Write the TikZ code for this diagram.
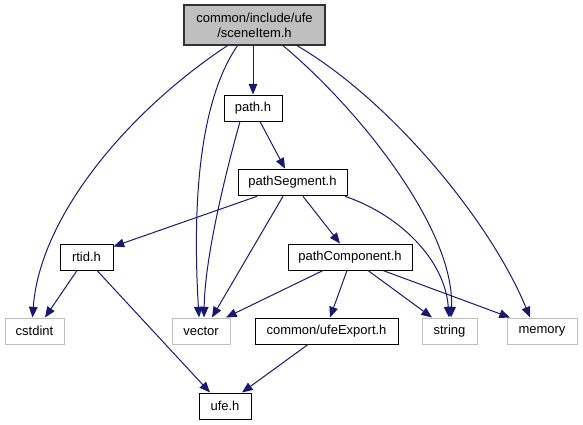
\documentclass[tikz,border=0pt]{standalone}
\usepackage{fontspec}
\setmainfont{Liberation Sans}
\usetikzlibrary{arrows.meta,calc}
\definecolor{edgeblue}{RGB}{25,25,112}
\definecolor{extgray}{RGB}{191,191,191}
\definecolor{topfill}{RGB}{191,191,191}
\begin{document}
\begin{tikzpicture}[x=0.75pt,y=-0.75pt,
  every node/.style={font=\fontsize{9.75pt}{11.25pt}\selectfont, inner sep=0pt, minimum height=19.5pt, align=center},
  filebox/.style={draw=black, line width=0.75pt, fill=white},
  extbox/.style={draw=extgray, line width=0.75pt, fill=white},
  topbox/.style={draw=black!80, line width=0.9pt, fill=topfill},
  dep/.style={draw=edgeblue, line width=0.75pt, -{Triangle[length=8pt,width=6.5pt]}}]
\useasboundingbox (0,0) rectangle (583,425);
% nodes
\node[topbox, minimum width=105.75pt, minimum height=30pt] (si) at (254.5,25) {common/include/ufe\\/sceneItem.h};
\node[filebox, minimum width=43.5pt] (path) at (253,108) {path.h};
\node[filebox, minimum width=81.75pt, minimum height=20pt] (seg) at (292.5,182.5) {pathSegment.h};
\node[filebox, minimum width=39.75pt] (rtid) at (86.5,257) {rtid.h};
\node[filebox, minimum width=93pt] (comp) at (350,257) {pathComponent.h};
\node[extbox, minimum width=44.25pt] (cstdint) at (34.5,331) {cstdint};
\node[extbox, minimum width=43.5pt] (vector) at (201,331) {vector};
\node[filebox, minimum width=107.25pt] (ufeexp) at (326.5,331) {common/ufeExport.h};
\node[extbox, minimum width=41.25pt] (string) at (449.5,331) {string};
\node[extbox, minimum width=52.5pt] (memory) at (542,331) {memory};
\node[filebox, minimum width=39pt] (ufe) at (225,406) {ufe.h};
% edges
\draw[dep] ($(si.south)+(-1.5,0)$) -- (path.north);
\draw[dep] ($(si.south)+(-27,0)$) .. controls (130,110) and (40,215) .. ($(cstdint.north)+(-2,0)$);
\draw[dep] ($(si.south)+(-17,0)$) .. controls (200,100) and (192,200) .. ($(vector.north)+(-2,0)$);
\draw[dep] ($(si.south)+(28.5,0)$) .. controls (360,110) and (455,230) .. ($(string.north)+(1.5,0)$);
\draw[dep] ($(si.south)+(42.5,0)$) .. controls (390,100) and (490,220) .. ($(memory.north)+(-12,0)$);
\draw[dep] ($(path.south)+(-13,0)$) .. controls (232,150) and (205,250) .. ($(vector.north)+(3,0)$);
\draw[dep] ($(path.south)+(7,0)$) -- ($(seg.north)+(-7.5,0)$);
\draw[dep] ($(seg.south)+(-35.5,0)$) -- ($(rtid.north east)+(0,3)$);
\draw[dep] ($(seg.south)+(-9.5,0)$) -- ($(vector.north)+(11,0)$);
\draw[dep] ($(seg.south)+(10.5,0)$) -- ($(comp.north)+(-10,0)$);
\draw[dep] ($(seg.south)+(52.5,0)$) .. controls (400,215) and (445,260) .. ($(string.north)+(-0.5,0)$);
\draw[dep] ($(rtid.south)+(-9.5,0)$) -- ($(cstdint.north)+(10.5,0)$);
\draw[dep] ($(rtid.south)+(10.5,0)$) -- ($(ufe.north)+(-15,0)$);
\draw[dep] ($(comp.south)+(-27,0)$) -- ($(vector.north)+(25,0)$);
\draw[dep] ($(comp.south)+(-3,0)$) -- ($(ufeexp.north)+(3.5,0)$);
\draw[dep] ($(comp.south)+(18,0)$) -- ($(string.north)+(-17.5,0)$);
\draw[dep] ($(comp.south)+(33,0)$) -- ($(memory.north)+(-32,0)$);
\draw[dep] ($(ufeexp.south)+(-18.5,0)$) -- ($(ufe.north)+(17,0)$);
\end{tikzpicture}
\end{document}
